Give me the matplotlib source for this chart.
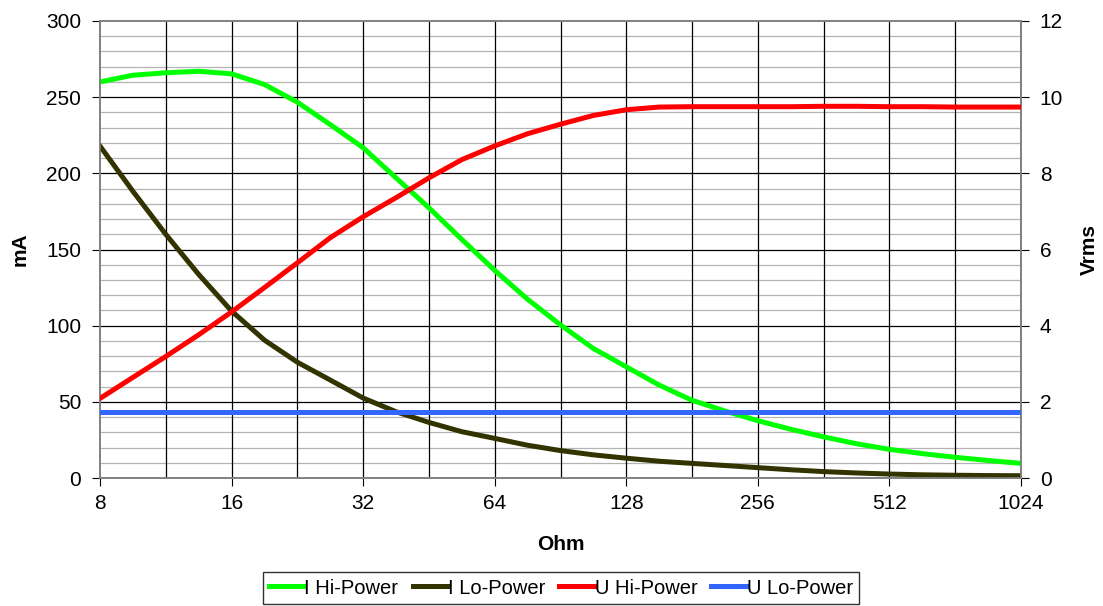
import numpy as np
import matplotlib.pyplot as plt
from matplotlib.ticker import FixedLocator, NullFormatter

plt.rcParams['font.family'] = ['Liberation Sans', 'DejaVu Sans']

# -----------------------------
# Datos (cada cuarto de octava)
# -----------------------------
ohm = [8, 9.51, 11.31, 13.45, 16, 19.03, 22.63, 26.91, 32, 38.05, 45.25,
       53.82, 64, 76.11, 90.51, 107.63, 128, 152.22, 181.02, 215.27, 256,
       304.44, 362.04, 430.54, 512, 608.87, 724.08, 861.08, 1024]

i_hi = [260, 264.4, 266, 267, 265.3, 258.3, 246.7, 232, 216.8, 197, 177.4,
        156.6, 136.3, 117.3, 100.5, 85, 73, 61, 51, 44, 37.6,
        32, 27, 22.5, 18.8, 16, 13.6, 11.5, 9.6]
i_lo = [217.9, 188.3, 160, 133.7, 109.6, 90.5, 76, 64.3, 52.5, 43.5, 36.5,
        30.4, 26, 21.5, 18, 15.2, 13, 11, 9.6, 8.2, 6.8,
        5.4, 4.2, 3.3, 2.6, 2.1, 1.8, 1.6, 1.5]
u_hi = [2.09, 2.64, 3.19, 3.76, 4.36, 5.0, 5.65, 6.31, 6.86, 7.36, 7.88,
        8.36, 8.72, 9.04, 9.29, 9.52, 9.67, 9.74, 9.75, 9.75, 9.75,
        9.75, 9.76, 9.76, 9.75, 9.75, 9.74, 9.74, 9.74]
u_lo = [1.72] * len(ohm)

xticks = [8, 16, 32, 64, 128, 256, 512, 1024]
xgrid = [11.31, 16, 22.63, 32, 45.25, 64, 90.51, 128, 181.02, 256, 362.04, 512, 724.08]

# -----------------------------
# Figura
# -----------------------------
fig = plt.figure(figsize=(11.03, 6.06), dpi=100)
ax = fig.add_axes([100/1103, 1 - 478/606, 921/1103, 457/606])
ax2 = ax.twinx()

lw = 3.6
l1, = ax.plot(ohm, i_hi, color='#00FF00', lw=lw, label='I Hi-Power', zorder=3,
              solid_joinstyle='round')
l2, = ax.plot(ohm, i_lo, color='#333300', lw=lw, label='I Lo-Power', zorder=3,
              solid_joinstyle='round')
l3, = ax2.plot(ohm, u_hi, color='#FF0000', lw=lw, label='U Hi-Power', zorder=3,
               solid_joinstyle='round')
l4, = ax2.plot(ohm, u_lo, color='#3366FF', lw=lw, label='U Lo-Power', zorder=3)

ax.set_xscale('log', base=2)
ax.set_xlim(8, 1024)
ax.set_ylim(0, 300)
ax2.set_ylim(0, 12)

ax.xaxis.set_major_locator(FixedLocator(xticks))
ax.set_xticklabels([str(v) for v in xticks])
ax.xaxis.set_minor_locator(FixedLocator([]))
ax.xaxis.set_minor_formatter(NullFormatter())
ax.set_yticks(np.arange(0, 301, 50))
ax2.set_yticks(np.arange(0, 13, 2))

# -----------------------------
# Rejilla
# -----------------------------
for yv in np.arange(10, 300, 10):
    if yv % 50 == 0:
        ax.axhline(yv, color='#000000', lw=0.9, zorder=1)
    else:
        ax.axhline(yv, color='#b4b4b4', lw=0.9, zorder=0.5)
for xv in xgrid:
    ax.axvline(xv, color='#000000', lw=0.9, zorder=1)

for a in (ax, ax2):
    for s in a.spines.values():
        s.set_color('#808080')
        s.set_linewidth(1.2)
    a.tick_params(axis='both', which='major', direction='out', length=5.5,
                  color='#000000', labelsize=15, pad=8)
ax.tick_params(axis='x', pad=6)

ax.set_ylabel('mA', fontsize=15, fontweight='bold', labelpad=12)
ax2.set_ylabel('Vrms', fontsize=15, fontweight='bold', labelpad=12)
ax.set_xlabel('Ohm', fontsize=15, fontweight='bold', labelpad=16)

leg = fig.legend(handles=[l1, l2, l3, l4], loc='center',
                 bbox_to_anchor=(561/1103, 1 - 588/606), ncol=4,
                 fontsize=14.5, frameon=True, fancybox=False,
                 handlelength=1.7, handletextpad=0.05, columnspacing=0.7,
                 borderpad=0.3)
leg.get_frame().set_edgecolor('#000000')
leg.get_frame().set_linewidth(1.0)

plt.savefig('out.png', dpi=100)
plt.close()
